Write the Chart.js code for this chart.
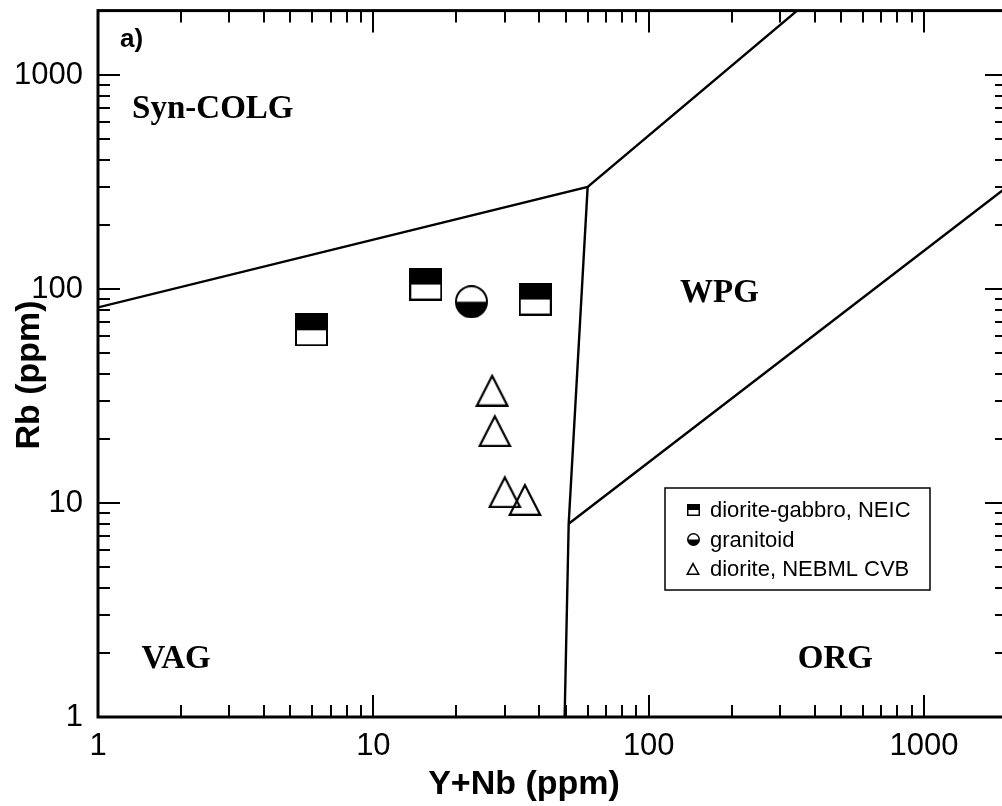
<!DOCTYPE html>
<html>
<head>
<meta charset="utf-8">
<script src="https://cdn.jsdelivr.net/npm/chart.js@4.4.1/dist/chart.umd.min.js"></script>
<style>
  html, body { margin: 0; padding: 0; background: #fff; overflow: hidden; width: 1002px; height: 806px; }
  canvas { display: block; }
</style>
</head>
<body>
<canvas id="chart" width="1012" height="806"></canvas>
<script>
// Rb vs (Y+Nb) tectonic discrimination diagram for granitoids (Pearce et al., 1984)

// axis tick labels
const xTickValues = [1, 10, 100, 1000];
const yTickValues = [1, 10, 100, 1000];

// samples
const seriesNames = ['diorite-gabbro, NEIC', 'granitoid', 'diorite, NEBML CVB'];
const dioriteGabbroX = [5.96, 15.5, 38.7];
const dioriteGabbroY = [64.5, 105.5, 89.8];
const granitoidX = [22.7];
const granitoidY = [87.2];
const dioriteCvbX = [27.0, 27.6, 30.0, 35.5];
const dioriteCvbY = [33.7, 21.8, 11.3, 10.4];

// field boundaries
const colgBoundX = [1, 60, 346];
const colgBoundY = [82, 300, 2000];
const vagBoundX = [60, 51.2, 49.5];
const vagBoundY = [300, 8, 1];
const orgBoundX = [51.2, 2000];
const orgBoundY = [8, 300];

// field names
const fieldNames = ['Syn-COLG', 'WPG', 'VAG', 'ORG'];

const pts = (xs, ys) => xs.map((v, i) => ({ x: v, y: ys[i] }));

// marker images
function halfSquare(w, h, lw) {
  const c = document.createElement('canvas');
  c.width = w; c.height = h;
  const g = c.getContext('2d');
  g.fillStyle = '#fff'; g.fillRect(0, 0, w, h);
  g.fillStyle = '#000'; g.fillRect(0, 0, w, Math.round(h / 2));
  g.strokeStyle = '#000'; g.lineWidth = lw;
  g.strokeRect(lw / 2, lw / 2, w - lw, h - lw);
  return c;
}
function halfCircle(d, lw) {
  const c = document.createElement('canvas');
  c.width = d; c.height = d;
  const g = c.getContext('2d');
  const r = d / 2 - lw / 2;
  g.fillStyle = '#fff';
  g.beginPath(); g.arc(d / 2, d / 2, r, 0, Math.PI * 2); g.fill();
  g.fillStyle = '#000';
  g.beginPath(); g.arc(d / 2, d / 2, r, 0, Math.PI); g.closePath(); g.fill();
  g.strokeStyle = '#000'; g.lineWidth = lw;
  g.beginPath(); g.arc(d / 2, d / 2, r, 0, Math.PI * 2); g.stroke();
  return c;
}
function openTriangle(w, h, lw) {
  const c = document.createElement('canvas');
  c.width = w; c.height = h;
  const g = c.getContext('2d');
  g.strokeStyle = '#000'; g.lineWidth = lw; g.lineJoin = 'miter';
  g.beginPath();
  g.moveTo(w / 2, lw);
  g.lineTo(w - lw * 0.8, h - lw / 2);
  g.lineTo(lw * 0.8, h - lw / 2);
  g.closePath();
  g.stroke();
  return c;
}

const bigSquare = halfSquare(33, 33, 2);
const bigCircle = halfCircle(33, 2);
const bigTriangle = openTriangle(34, 33, 2.2);
const legendMarkers = [halfSquare(13, 12, 1.5), halfCircle(13, 1.5), openTriangle(14, 13, 1.6)];

const boundaryStyle = {
  type: 'scatter', showLine: true, borderColor: '#000', borderWidth: 2.4,
  pointRadius: 0, tension: 0, fill: false
};

const LOG_MIN = 1, LOG_MAX = 2000;

// fixed axis boxes: no extra label overhang padding
function fixBox(size, key) {
  return s => {
    s[key] = size;
    s.paddingLeft = 0; s.paddingRight = 0; s.paddingTop = 0; s.paddingBottom = 0;
  };
}

// frame with inward ticks on all four sides
const frameTicks = {
  id: 'frameTicks',
  afterDatasetsDraw(chart) {
    const { ctx, chartArea: a, scales: { x, y } } = chart;
    ctx.save();
    ctx.strokeStyle = '#000';
    ctx.lineWidth = 2;
    ctx.beginPath();
    for (let k = 0; k < 4; k++) {
      for (let m = 1; m < 10; m++) {
        const v = m * Math.pow(10, k);
        if (v > LOG_MAX) continue;
        const len = m === 1 ? 22 : 12;
        const px = Math.round(x.getPixelForValue(v));
        const py = Math.round(y.getPixelForValue(v));
        ctx.moveTo(px, a.bottom); ctx.lineTo(px, a.bottom - len);
        ctx.moveTo(px, a.top); ctx.lineTo(px, a.top + len);
        ctx.moveTo(a.left, py); ctx.lineTo(a.left + len, py);
        ctx.moveTo(a.right, py); ctx.lineTo(a.right - len, py);
      }
    }
    ctx.stroke();
    ctx.lineWidth = 3;
    ctx.strokeRect(a.left, a.top, a.right - a.left, a.bottom - a.top);
    ctx.restore();
  }
};

// field names, axis titles, panel letter and the legend box
const annotations = {
  id: 'annotations',
  afterDraw(chart) {
    const { ctx, scales: { x, y } } = chart;
    const fieldAnchors = [[1.33, 630], [130, 87], [1.44, 1.69], [348, 1.69]];
    ctx.save();
    ctx.fillStyle = '#000';
    ctx.textAlign = 'left';
    ctx.textBaseline = 'alphabetic';
    ctx.font = 'bold 33px "Liberation Serif", "Times New Roman", serif';
    fieldNames.forEach((name, i) => {
      ctx.fillText(name, x.getPixelForValue(fieldAnchors[i][0]), y.getPixelForValue(fieldAnchors[i][1]));
    });

    ctx.font = 'bold 26px "Liberation Sans", Arial, sans-serif';
    ctx.fillText('a)', 120, 47);

    ctx.font = 'bold 34px "Liberation Sans", Arial, sans-serif';
    ctx.textAlign = 'center';
    ctx.textBaseline = 'middle';
    ctx.fillText('Y+Nb (ppm)', 524, 785);
    ctx.save();
    ctx.translate(30, 375);
    ctx.rotate(-Math.PI / 2);
    ctx.fillText('Rb (ppm)', 0, 0);
    ctx.restore();

    // legend
    const box = { left: 665, top: 488, width: 265, height: 102 };
    ctx.lineWidth = 1.5;
    ctx.strokeStyle = '#000';
    ctx.fillStyle = '#fff';
    ctx.fillRect(box.left, box.top, box.width, box.height);
    ctx.strokeRect(box.left, box.top, box.width, box.height);
    ctx.fillStyle = '#000';
    ctx.textAlign = 'left';
    ctx.font = '22px "Liberation Sans", Arial, sans-serif';
    const rows = [510, 539.5, 568.5];
    seriesNames.forEach((name, i) => {
      const m = legendMarkers[i];
      ctx.drawImage(m, Math.round(693 - m.width / 2), Math.round(rows[i] - m.height / 2));
      ctx.fillText(name, 710, rows[i] + 1);
    });
    ctx.restore();
  }
};

new Chart(document.getElementById('chart'), {
  type: 'scatter',
  data: {
    datasets: [
      { ...boundaryStyle, label: 'colg', data: pts(colgBoundX, colgBoundY) },
      { ...boundaryStyle, label: 'vag', data: pts(vagBoundX, vagBoundY) },
      { ...boundaryStyle, label: 'org', data: pts(orgBoundX, orgBoundY) },
      { label: seriesNames[0], data: pts(dioriteGabbroX, dioriteGabbroY), pointStyle: bigSquare, pointRadius: 17 },
      { label: seriesNames[1], data: pts(granitoidX, granitoidY), pointStyle: bigCircle, pointRadius: 17 },
      { label: seriesNames[2], data: pts(dioriteCvbX, dioriteCvbY), pointStyle: bigTriangle, pointRadius: 17 }
    ]
  },
  options: {
    responsive: false,
    animation: false,
    devicePixelRatio: 1,
    events: [],
    layout: { autoPadding: false, padding: { top: 10.6, right: 5, left: 0, bottom: 0 } },
    plugins: { legend: { display: false }, tooltip: { enabled: false } },
    scales: {
      x: {
        type: 'logarithmic', position: 'bottom', min: LOG_MIN, max: LOG_MAX,
        afterBuildTicks: s => { s.ticks = xTickValues.map(v => ({ value: v })); },
        afterFit: fixBox(89, 'height'),
        grid: { display: false }, border: { display: false },
        ticks: {
          color: '#000', padding: 3, autoSkip: false, maxRotation: 0,
          font: { family: '"Liberation Sans", Arial, sans-serif', size: 31 },
          callback: v => String(v)
        }
      },
      y: {
        type: 'logarithmic', position: 'left', min: LOG_MIN, max: LOG_MAX,
        afterBuildTicks: s => { s.ticks = yTickValues.map(v => ({ value: v })); },
        afterFit: fixBox(98, 'width'),
        grid: { display: false }, border: { display: false },
        ticks: {
          color: '#000', padding: 7, autoSkip: false,
          font: { family: '"Liberation Sans", Arial, sans-serif', size: 31 },
          callback: v => String(v)
        }
      }
    }
  },
  plugins: [frameTicks, annotations]
});
</script>
</body>
</html>
